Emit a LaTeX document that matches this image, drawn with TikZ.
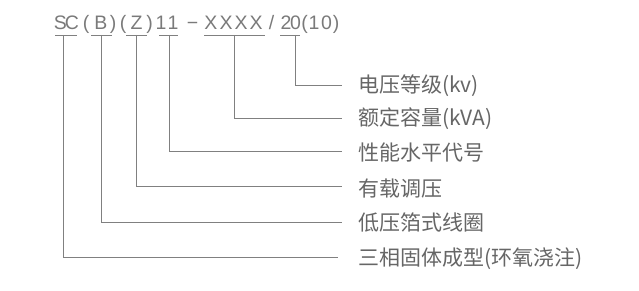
\documentclass[tikz,border=0pt]{standalone}
\usepackage{fontspec}
\setmainfont{Noto Sans CJK SC}
\newfontfamily\codefont{Liberation Sans}
\begin{document}
\begin{tikzpicture}[x=1pt,y=-1pt,
  code/.style={anchor=base,inner sep=0pt,font=\codefont\fontsize{19.5}{21}\selectfont,text=black!52},
  lbl/.style={anchor=west,inner sep=0pt,font=\fontsize{21}{22}\selectfont,text=black!60},
  ln/.style={draw=black!50,line width=0.9pt}]
\useasboundingbox (0,0) rectangle (639,291);
% top code, one character at a time
\node[code] (c1) at (60.5,30) {S};
\node[code] (c2) at (72,30) {C};
\node[code] (c3) at (86,30) {(};
\node[code] (c4) at (101,30) {B};
\node[code] (c5) at (113,30) {)};
\node[code] (c6) at (123,30) {(};
\node[code] (c7) at (136.5,30) {Z};
\node[code] (c8) at (149.5,30) {)};
\node[code] (c9) at (161,30) {1};
\node[code] (c10) at (173,30) {1};
\node[code] (c11) at (192.5,30) {−};
\node[code] (c12) at (211,30) {X};
\node[code] (c13) at (226,30) {X};
\node[code] (c14) at (241,30) {X};
\node[code] (c15) at (256,30) {X};
\node[code] (c16) at (271.5,30) {/};
\node[code] (c17) at (286,30) {2};
\node[code] (c18) at (295.5,30) {0};
\node[code] (c19) at (304.5,30) {(};
\node[code] (c20) at (314,30) {1};
\node[code] (c21) at (326.5,30) {0};
\node[code] (c22) at (336,30) {)};
% underlines
\coordinate (u1a) at (55,35); \coordinate (u1b) at (77,35);
\coordinate (u2a) at (91,35); \coordinate (u2b) at (112,35);
\coordinate (u3a) at (126,35); \coordinate (u3b) at (147,35);
\coordinate (u4a) at (159,35); \coordinate (u4b) at (178,35);
\coordinate (u5a) at (204,35); \coordinate (u5b) at (265,35);
\coordinate (u6a) at (280,35); \coordinate (u6b) at (300,35);
\foreach \i in {1,...,6} {\draw[ln] (u\i a) -- (u\i b);}
% labels
\node[lbl] (l1) at (358,86) {电压等级(kv)};
\node[lbl] (l2) at (358,119) {额定容量(kVA)};
\node[lbl] (l3) at (358,153) {性能水平代号};
\node[lbl] (l4) at (358,189) {有载调压};
\node[lbl] (l5) at (358,223) {低压箔式线圈};
\node[lbl] (l6) at (358,259) {三相固体成型(环氧浇注)};
% stems
\coordinate (s6) at (295,35); \coordinate (e6) at (342,85);
\coordinate (s5) at (234.5,35); \coordinate (e5) at (342,118);
\coordinate (s4) at (169,35); \coordinate (e4) at (342,151);
\coordinate (s3) at (136.5,35); \coordinate (e3) at (342,186);
\coordinate (s2) at (101,35); \coordinate (e2) at (342,222.5);
\coordinate (s1) at (63.5,35); \coordinate (e1) at (338,257.5);
\foreach \i in {1,...,6} {\draw[ln] (s\i) |- (e\i);}
\end{tikzpicture}
\end{document}
